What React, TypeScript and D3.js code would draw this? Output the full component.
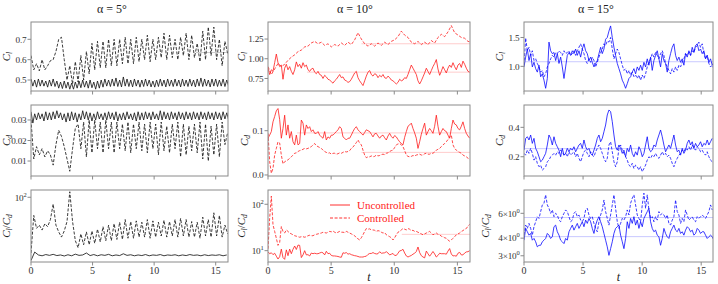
import React from "react";
import * as d3 from "d3";

const T_END = 16;
const xTicks = [0, 5, 10, 15];
const titles = ["α = 5°", "α = 10°", "α = 15°"];
const legendLabels = ["Uncontrolled", "Controlled"];

// sample spacing (time units) of each group of series
const dtA5Unc = 0.15;
const dtA5Ctl = 0.225;
const dtA5RatioUnc = 0.3;
const dtA10 = 0.132;
const dtA10ClCtl = 0.264;
const dtA15 = 0.141;

// ---- alpha = 5 deg
const a5ClUnc = [
  0.505, 0.47, 0.5, 0.465, 0.505, 0.47, 0.5, 0.47, 0.495, 0.465,
  0.5, 0.47, 0.505, 0.468, 0.495, 0.46, 0.49, 0.458, 0.495, 0.46,
  0.49, 0.455, 0.485, 0.455, 0.49, 0.46, 0.495, 0.462, 0.5, 0.465,
  0.495, 0.46, 0.5, 0.462, 0.49, 0.455, 0.495, 0.46, 0.5, 0.465,
  0.505, 0.47, 0.5, 0.468, 0.505, 0.47, 0.51, 0.468, 0.5, 0.466,
  0.515, 0.47, 0.505, 0.468, 0.5, 0.466, 0.505, 0.47, 0.5, 0.465,
  0.5, 0.468, 0.505, 0.47, 0.5, 0.466, 0.495, 0.465, 0.5, 0.468,
  0.505, 0.47, 0.5, 0.466, 0.505, 0.47, 0.5, 0.468, 0.505, 0.47,
  0.5, 0.466, 0.505, 0.47, 0.5, 0.468, 0.505, 0.47, 0.5, 0.466,
  0.505, 0.47, 0.51, 0.468, 0.505, 0.47, 0.5, 0.466, 0.505, 0.47,
  0.505, 0.468, 0.5, 0.47, 0.505, 0.468, 0.5, 0.47,
];
const a5ClCtl = [
  0.62, 0.55, 0.58, 0.545, 0.6, 0.55, 0.57, 0.595, 0.6, 0.64,
  0.7, 0.71, 0.6, 0.5, 0.57, 0.48, 0.59, 0.49, 0.62, 0.5,
  0.64, 0.53, 0.68, 0.55, 0.69, 0.56, 0.69, 0.56, 0.7, 0.57,
  0.7, 0.57, 0.7, 0.58, 0.71, 0.58, 0.7, 0.58, 0.71, 0.59,
  0.7, 0.6, 0.72, 0.59, 0.7, 0.6, 0.71, 0.61, 0.73, 0.6,
  0.72, 0.61, 0.7, 0.6, 0.71, 0.62, 0.73, 0.6, 0.72, 0.61,
  0.68, 0.59, 0.74, 0.6, 0.76, 0.62, 0.76, 0.6, 0.7, 0.57,
  0.69, 0.63,
];
const a5CdUnc = [
  0.034, 0.0285, 0.033, 0.03, 0.0335, 0.0305, 0.033, 0.0295, 0.034, 0.03,
  0.0335, 0.03, 0.034, 0.0305, 0.0345, 0.031, 0.0335, 0.03, 0.033, 0.029,
  0.0335, 0.0295, 0.034, 0.03, 0.0335, 0.029, 0.033, 0.03, 0.0345, 0.0305,
  0.034, 0.03, 0.0335, 0.0295, 0.033, 0.03, 0.034, 0.0305, 0.033, 0.03,
  0.0335, 0.03, 0.034, 0.0305, 0.0335, 0.03, 0.034, 0.0295, 0.033, 0.03,
  0.0335, 0.03, 0.034, 0.0305, 0.033, 0.03, 0.0335, 0.0295, 0.034, 0.03,
  0.0335, 0.03, 0.034, 0.0305, 0.0335, 0.03, 0.034, 0.0305, 0.033, 0.03,
  0.0345, 0.03, 0.034, 0.0305, 0.0335, 0.03, 0.034, 0.0305, 0.0335, 0.03,
  0.034, 0.0305, 0.0335, 0.03, 0.034, 0.0305, 0.0335, 0.03, 0.034, 0.0305,
  0.0335, 0.03, 0.034, 0.0305, 0.0335, 0.03, 0.034, 0.0305, 0.0335, 0.03,
  0.034, 0.0305, 0.0335, 0.03, 0.034, 0.0305, 0.0335, 0.03,
];
const a5CdCtl = [
  0.03, 0.011, 0.017, 0.013, 0.016, 0.012, 0.015, 0.013, 0.008, 0.018,
  0.025, 0.022, 0.017, 0.011, 0.005, 0.016, 0.026, 0.028, 0.016, 0.029,
  0.012, 0.03, 0.014, 0.03, 0.016, 0.029, 0.014, 0.03, 0.016, 0.029,
  0.014, 0.029, 0.016, 0.028, 0.015, 0.029, 0.014, 0.028, 0.016, 0.029,
  0.015, 0.028, 0.014, 0.029, 0.016, 0.028, 0.013, 0.029, 0.015, 0.027,
  0.014, 0.028, 0.016, 0.029, 0.012, 0.028, 0.013, 0.027, 0.015, 0.028,
  0.014, 0.029, 0.011, 0.028, 0.01, 0.027, 0.013, 0.028, 0.012, 0.029,
  0.018, 0.024,
];
const a5RatioUnc = [
  12.5, 16.5, 15.0, 14.6, 15.2, 14.8, 15.3, 14.7, 15.0, 14.5,
  15.1, 14.6, 15.4, 14.8, 15.0, 16.0, 14.7, 15.2, 14.6, 15.1,
  14.8, 15.3, 14.6, 15.0, 14.7, 15.6, 14.8, 15.1, 14.6, 15.0,
  14.7, 15.2, 14.6, 15.0, 14.8, 15.2, 14.6, 15.0, 14.8, 15.1,
  14.6, 15.0, 14.7, 15.2, 14.8, 15.0, 14.6, 15.1, 14.7, 15.0,
  14.8, 15.1, 14.6, 15.0,
];
const a5RatioCtl = [
  16, 55, 36, 40, 34, 42, 38, 48, 80, 40,
  32, 27, 33, 45, 120, 45, 24, 19, 30, 21,
  32, 21, 33, 22, 35, 23, 38, 24, 40, 24,
  42, 25, 44, 25, 48, 26, 45, 26, 46, 27,
  44, 27, 48, 26, 46, 27, 44, 28, 47, 27,
  45, 28, 48, 27, 50, 28, 48, 27, 45, 27,
  44, 26, 52, 28, 48, 27, 60, 28, 55, 27,
  40, 30,
];

// ---- alpha = 10 deg
const a10ClUnc = [
  0.88, 0.8, 0.86, 0.84, 0.95, 1.06, 0.95, 0.9, 0.92, 0.74,
  0.88, 0.93, 0.86, 0.9, 0.84, 0.8, 0.86, 0.96, 0.9, 0.93,
  0.88, 0.95, 0.9, 0.92, 0.86, 0.84, 0.87, 0.88, 0.83, 0.81,
  0.84, 0.8, 0.79, 0.75, 0.79, 0.77, 0.74, 0.73, 0.71, 0.69,
  0.72, 0.74, 0.77, 0.8, 0.76, 0.77, 0.73, 0.72, 0.7, 0.71,
  0.74, 0.78, 0.82, 0.84, 0.76, 0.72, 0.69, 0.66, 0.72, 0.78,
  0.83, 0.85, 0.8, 0.78, 0.81, 0.8, 0.76, 0.79, 0.77, 0.8,
  0.76, 0.75, 0.78, 0.76, 0.73, 0.72, 0.7, 0.68, 0.7, 0.74,
  0.72, 0.73, 0.76, 0.75, 0.8, 0.86, 0.92, 0.88, 0.84, 0.8,
  0.72, 0.68, 0.72, 0.77, 0.82, 0.88, 0.84, 0.8, 0.85, 0.9,
  0.94, 0.99, 0.87, 0.79, 0.84, 0.9, 0.86, 0.82, 0.88, 0.92,
  0.89, 0.95, 0.9, 0.86, 0.92, 0.94, 0.89, 0.97, 0.93, 0.88,
  0.84, 0.83,
];
const a10ClCtl = [
  0.9, 0.8, 0.87, 0.94, 0.9, 0.93, 0.98, 1.02, 1.05, 1.09,
  1.11, 1.15, 1.16, 1.2, 1.22, 1.19, 1.21, 1.17, 1.19, 1.15,
  1.18, 1.16, 1.2, 1.17, 1.21, 1.18, 1.24, 1.33, 1.25, 1.19,
  1.16, 1.19, 1.16, 1.2, 1.17, 1.21, 1.18, 1.22, 1.24, 1.28,
  1.35, 1.3, 1.27, 1.21, 1.19, 1.22, 1.18, 1.21, 1.18, 1.23,
  1.2, 1.27, 1.31, 1.28, 1.34, 1.42, 1.33, 1.3, 1.27, 1.26,
  1.22, 1.21,
];
const a10CdUnc = [
  0.083, 0.09, 0.098, 0.12, 0.132, 0.145, 0.15, 0.125, 0.083, 0.105,
  0.135, 0.09, 0.113, 0.083, 0.098, 0.075, 0.068, 0.09, 0.068, 0.071,
  0.124, 0.117, 0.09, 0.113, 0.105, 0.109, 0.098, 0.102, 0.094, 0.094,
  0.098, 0.09, 0.086, 0.083, 0.098, 0.079, 0.086, 0.083, 0.09, 0.09,
  0.094, 0.098, 0.102, 0.109, 0.105, 0.086, 0.083, 0.079, 0.083, 0.083,
  0.09, 0.098, 0.105, 0.109, 0.102, 0.098, 0.094, 0.09, 0.096, 0.102,
  0.1, 0.098, 0.092, 0.086, 0.093, 0.094, 0.088, 0.083, 0.088, 0.09,
  0.084, 0.079, 0.088, 0.094, 0.087, 0.083, 0.089, 0.086, 0.08, 0.075,
  0.071, 0.068, 0.085, 0.098, 0.11, 0.113, 0.117, 0.105, 0.095, 0.083,
  0.06, 0.075, 0.092, 0.105, 0.117, 0.09, 0.098, 0.105, 0.1, 0.094,
  0.11, 0.135, 0.11, 0.09, 0.098, 0.105, 0.1, 0.098, 0.09, 0.083,
  0.105, 0.124, 0.115, 0.113, 0.105, 0.102, 0.11, 0.12, 0.105, 0.094,
  0.088, 0.083,
];
const a10CdCtl = [
  0.094, 0.03, 0.004, 0.015, 0.045, 0.06, 0.075, 0.072, 0.045, 0.025,
  0.03, 0.032, 0.034, 0.038, 0.041, 0.045, 0.049, 0.05, 0.053, 0.055,
  0.056, 0.058, 0.06, 0.059, 0.06, 0.062, 0.064, 0.068, 0.071, 0.066,
  0.064, 0.062, 0.06, 0.056, 0.053, 0.051, 0.049, 0.05, 0.047, 0.049,
  0.049, 0.047, 0.048, 0.05, 0.049, 0.051, 0.053, 0.052, 0.053, 0.055,
  0.06, 0.063, 0.068, 0.073, 0.079, 0.072, 0.068, 0.056, 0.045, 0.039,
  0.041, 0.041, 0.043, 0.041, 0.042, 0.045, 0.043, 0.044, 0.046, 0.047,
  0.046, 0.049, 0.05, 0.053, 0.055, 0.056, 0.062, 0.068, 0.07, 0.071,
  0.068, 0.064, 0.055, 0.045, 0.042, 0.041, 0.042, 0.044, 0.043, 0.045,
  0.046, 0.047, 0.045, 0.045, 0.048, 0.049, 0.047, 0.047, 0.049, 0.049,
  0.052, 0.056, 0.058, 0.06, 0.064, 0.068, 0.071, 0.075, 0.08, 0.086,
  0.09, 0.068, 0.06, 0.056, 0.053, 0.051, 0.049, 0.045, 0.043, 0.041,
  0.038, 0.034,
];
const a10RatioUnc = [
  9.5, 8.6, 9.0, 8.2, 8.8, 7.6, 6.6, 7.4, 10.8, 7.1,
  6.5, 10.4, 7.8, 10.8, 8.6, 10.7, 12.6, 10.6, 13.2, 13.0,
  7.1, 8.1, 10.0, 8.1, 8.2, 7.7, 8.9, 8.6, 8.8, 8.6,
  8.6, 8.9, 9.2, 9.0, 8.1, 9.7, 8.6, 8.8, 7.9, 7.7,
  7.7, 7.6, 7.5, 7.3, 7.2, 9.0, 8.8, 9.1, 8.4, 8.6,
  8.2, 8.0, 7.8, 7.7, 7.5, 7.3, 7.3, 7.3, 7.5, 7.6,
  8.3, 8.7, 8.7, 9.1, 8.7, 8.5, 8.6, 9.5, 8.8, 8.9,
  9.0, 9.5, 8.9, 8.1, 8.4, 8.7, 7.9, 7.9, 8.8, 9.9,
  10.1, 10.7, 8.9, 7.7, 7.3, 7.6, 7.9, 8.4, 8.8, 9.6,
  12.0, 9.1, 7.8, 7.3, 7.0, 9.8, 8.6, 7.6, 8.5, 9.6,
  8.5, 7.3, 7.9, 8.8, 8.6, 8.6, 8.6, 8.4, 9.8, 11.1,
  8.5, 7.7, 7.8, 7.6, 8.8, 9.2, 8.1, 8.1, 8.9, 9.4,
  9.5, 10.0,
];
const a10RatioCtl = [
  11, 50, 150, 36, 26, 18.5, 13, 15, 33, 26,
  24, 28, 26, 24, 23, 22, 21, 20.5, 20, 19.5,
  20, 20, 19.5, 20, 21, 21.5, 21, 21, 22, 22.5,
  23, 23.5, 24, 25, 24.5, 24, 25, 26, 25.5, 26.5,
  25, 24, 25, 26, 25, 25, 24.5, 26, 25, 24,
  23, 22, 21, 19, 18, 17, 19, 22, 26, 30,
  29, 29.5, 28, 28, 27.5, 26, 27, 26.5, 25, 24,
  24.5, 22, 21, 20, 19, 17, 19, 22, 25, 26,
  28, 30, 29, 28, 30, 29, 27, 27.5, 26, 26,
  25, 24, 23, 22, 23, 24, 25, 26, 24, 22,
  23, 24, 22.5, 22, 20.5, 20, 19, 18.5, 17, 16,
  17, 18.5, 20, 22, 23, 24, 26, 27, 29, 30,
  34, 37,
];

// ---- alpha = 15 deg
const a15ClUnc = [
  0.99, 1.16, 1.3, 1.1, 1.22, 0.99, 1.07, 0.96, 0.9, 1.02,
  0.82, 0.87, 0.76, 0.62, 0.79, 1.42, 1.27, 1.22, 1.24, 1.1,
  1.22, 1.05, 1.16, 0.99, 0.79, 0.99, 1.19, 1.24, 1.19, 1.27,
  1.22, 1.3, 1.19, 1.27, 1.16, 1.3, 1.39, 1.27, 1.22, 1.1,
  1.16, 1.07, 0.99, 1.05, 1.1, 1.22, 1.33, 1.22, 1.3, 1.47,
  1.5, 1.61, 1.7, 1.5, 1.33, 1.19, 1.05, 0.96, 0.87, 0.76,
  0.7, 0.62, 0.7, 0.79, 0.82, 0.9, 0.96, 0.87, 0.99, 0.93,
  1.02, 0.93, 1.07, 0.99, 1.13, 1.02, 1.16, 0.93, 1.1, 1.19,
  1.27, 1.13, 0.99, 1.22, 1.1, 1.05, 0.9, 1.1, 1.22, 1.33,
  1.39, 1.19, 1.1, 1.16, 1.07, 1.13, 1.02, 1.22, 1.16, 1.27,
  1.19, 1.33, 1.24, 1.36, 1.39, 1.27, 1.3, 1.22, 1.27, 1.13,
  1.19, 1.07, 1.13, 1.02, 1.07,
];
const a15ClCtl = [
  1.02, 1.49, 1.27, 1.33, 1.19, 1.27, 1.1, 1.13, 1.05, 0.99,
  0.9, 0.93, 0.82, 0.87, 0.99, 1.05, 1.13, 1.19, 1.16, 1.24,
  1.22, 1.27, 1.24, 1.19, 1.27, 1.22, 1.24, 1.27, 1.19, 1.22,
  1.27, 1.19, 1.27, 1.33, 1.39, 1.3, 1.22, 1.1, 1.05, 1.13,
  1.07, 1.16, 1.1, 0.99, 1.07, 1.16, 1.24, 1.3, 1.39, 1.36,
  1.44, 1.42, 1.5, 1.3, 1.13, 1.22, 1.3, 1.24, 1.13, 1.02,
  0.93, 0.96, 0.87, 0.93, 0.85, 0.9, 0.82, 0.85, 0.79, 0.85,
  0.76, 0.85, 0.79, 0.87, 0.99, 1.07, 1.13, 1.22, 1.16, 1.24,
  1.19, 1.13, 1.22, 1.27, 1.19, 1.05, 0.99, 0.93, 0.87, 0.96,
  0.9, 0.99, 0.93, 1.02, 0.99, 1.07, 1.13, 1.22, 1.19, 1.24,
  1.19, 1.27, 1.24, 1.33, 1.36, 1.42, 1.33, 1.39, 1.22, 1.13,
  1.19, 1.05, 0.99, 1.02, 0.96,
];
const a15CdUnc = [
  0.245, 0.325, 0.336, 0.314, 0.348, 0.291, 0.325, 0.257, 0.234, 0.2,
  0.166, 0.177, 0.2, 0.223, 0.28, 0.348, 0.325, 0.28, 0.336, 0.291,
  0.268, 0.245, 0.2, 0.257, 0.211, 0.223, 0.257, 0.234, 0.257, 0.245,
  0.268, 0.234, 0.257, 0.28, 0.291, 0.257, 0.314, 0.268, 0.245, 0.257,
  0.223, 0.211, 0.245, 0.28, 0.325, 0.348, 0.302, 0.325, 0.37, 0.416,
  0.484, 0.518, 0.507, 0.439, 0.348, 0.268, 0.245, 0.28, 0.257, 0.223,
  0.245, 0.2, 0.257, 0.234, 0.28, 0.223, 0.2, 0.234, 0.211, 0.268,
  0.245, 0.2, 0.223, 0.28, 0.336, 0.257, 0.234, 0.245, 0.28, 0.268,
  0.314, 0.348, 0.382, 0.336, 0.28, 0.234, 0.257, 0.28, 0.257, 0.302,
  0.348, 0.28, 0.234, 0.245, 0.211, 0.257, 0.223, 0.245, 0.291, 0.314,
  0.28, 0.302, 0.257, 0.291, 0.268, 0.28, 0.302, 0.268, 0.291, 0.28,
  0.314, 0.28, 0.302, 0.325,
];
const a15CdCtl = [
  0.223, 0.211, 0.245, 0.223, 0.257, 0.223, 0.177, 0.2, 0.155, 0.132,
  0.143, 0.109, 0.12, 0.132, 0.166, 0.177, 0.2, 0.211, 0.223, 0.211,
  0.234, 0.223, 0.245, 0.234, 0.211, 0.223, 0.2, 0.234, 0.211, 0.223,
  0.234, 0.2, 0.223, 0.189, 0.166, 0.2, 0.234, 0.245, 0.223, 0.2,
  0.234, 0.211, 0.2, 0.234, 0.257, 0.28, 0.257, 0.223, 0.189, 0.166,
  0.189, 0.28, 0.302, 0.234, 0.166, 0.132, 0.166, 0.257, 0.28, 0.245,
  0.223, 0.2, 0.177, 0.143, 0.132, 0.155, 0.12, 0.143, 0.132, 0.109,
  0.132, 0.098, 0.12, 0.143, 0.177, 0.2, 0.189, 0.211, 0.2, 0.223,
  0.2, 0.189, 0.211, 0.234, 0.211, 0.223, 0.2, 0.211, 0.189, 0.155,
  0.132, 0.166, 0.189, 0.211, 0.223, 0.245, 0.234, 0.257, 0.245, 0.268,
  0.245, 0.28, 0.257, 0.245, 0.268, 0.257, 0.234, 0.245, 0.223, 0.211,
  0.234, 0.2, 0.177, 0.166,
];
const a15RatioUnc = [
  3.87, 4.69, 4.44, 4.2, 4.32, 3.87, 3.98, 3.77, 3.47, 3.56,
  3.56, 3.77, 3.87, 3.98, 4.32, 4.2, 3.98, 4.09, 4.82, 4.95,
  4.44, 4.2, 3.87, 3.77, 3.66, 3.98, 3.87, 4.44, 4.69, 4.95,
  4.56, 4.82, 5.09, 4.69, 4.95, 5.23, 4.82, 5.37, 5.09, 5.52,
  5.23, 4.69, 4.32, 4.95, 5.37, 5.68, 5.23, 4.82, 4.32, 3.87,
  3.47, 3.02, 3.37, 3.77, 4.32, 4.69, 4.82, 4.95, 4.2, 3.77,
  3.37, 3.98, 5.23, 4.69, 5.52, 5.09, 5.68, 4.95, 5.37, 4.69,
  5.23, 4.82, 5.52, 5.84, 6.17, 6.51, 5.23, 4.69, 4.44, 4.56,
  4.2, 4.09, 3.56, 3.98, 4.69, 4.32, 4.09, 3.98, 4.44, 4.69,
  4.95, 4.56, 4.44, 4.69, 4.32, 4.44, 4.2, 4.56, 4.82, 4.69,
  4.44, 4.56, 4.2, 4.32, 4.69, 4.56, 4.32, 4.44, 4.44, 4.2,
  3.98, 4.09, 4.2, 4.09, 3.87,
];
const a15RatioCtl = [
  4.2, 4.95, 4.69, 5.09, 4.69, 4.2, 4.82, 5.23, 5.68, 5.52,
  6.17, 6.88, 7.07, 8.11, 6.88, 6.51, 6.0, 6.34, 5.68, 6.0,
  5.84, 5.37, 5.23, 5.68, 6.0, 6.34, 6.17, 5.68, 5.23, 5.37,
  6.0, 6.17, 5.68, 5.84, 5.37, 5.23, 5.52, 6.34, 6.51, 5.84,
  5.52, 5.68, 5.09, 4.69, 4.44, 5.23, 5.84, 6.34, 7.46, 6.17,
  5.52, 4.95, 5.84, 6.88, 8.11, 6.51, 5.23, 4.69, 5.09, 5.52,
  5.37, 5.68, 6.34, 5.84, 7.07, 7.67, 8.11, 6.88, 5.84, 5.52,
  5.23, 6.88, 8.34, 6.51, 8.11, 6.34, 5.52, 5.68, 5.23, 5.68,
  5.37, 6.17, 5.84, 6.0, 5.84, 5.52, 5.84, 5.09, 4.95, 5.37,
  5.68, 7.46, 6.17, 5.84, 5.09, 5.52, 5.23, 6.34, 5.84, 5.37,
  5.52, 5.68, 5.37, 5.23, 5.68, 5.52, 5.68, 5.84, 5.68, 5.52,
  5.84, 6.17, 6.88, 6.34,
];

// faint averaged levels: [value, start time]
const a5ClMeans = [[0.635, 13.4]];
const a10ClMeans = [[1.19, 7.4], [0.83, 3.1]];
const a10CdMeans = [[0.095, 2.3], [0.051, 7.4]];
const a10RatioMeans = [[22.5, 10.6]];
const a15ClMeans = [[1.08, 0]];
const a15CdMeans = [[0.255, 0]];
const a15RatioMeans = [[5.6, 0], [4.1, 0]];

// y ticks and their labels
const a5ClTicks = [0.5, 0.6, 0.7];
const a5ClTickLabels = ["0.5", "0.6", "0.7"];
const a5CdTicks = [0.01, 0.02, 0.03];
const a5CdTickLabels = ["0.01", "0.02", "0.03"];
const a5RatioTicks = [100];
const a5RatioTickLabels = ["10^2"];
const a10ClTicks = [0.75, 1.0, 1.25];
const a10ClTickLabels = ["0.75", "1.00", "1.25"];
const a10CdTicks = [0, 0.1];
const a10CdTickLabels = ["0.0", "0.1"];
const a10RatioTicks = [10, 100];
const a10RatioTickLabels = ["10^1", "10^2"];
const a15ClTicks = [1.0, 1.5];
const a15ClTickLabels = ["1.0", "1.5"];
const a15CdTicks = [0.2, 0.4];
const a15CdTickLabels = ["0.2", "0.4"];
const a15RatioTicks = [3, 4, 6];
const a15RatioTickLabels = ["3×10^0", "4×10^0", "6×10^0"];

const colors = ["#1a1a1a", "#ff1a1a", "#0a0aff"];
const colCfg = [
  { x0: 31, x1: 228, title: 112 },
  { x0: 268, x1: 470, title: 355 },
  { x0: 524, x1: 713, title: 596 },
];
const rowCfg = [
  { y0: 22, y1: 91 },
  { y0: 105, y1: 176 },
  { y0: 190, y1: 262 },
];

const panels = [
  { col: 0, row: 0, unc: a5ClUnc, dtU: dtA5Unc, ctl: a5ClCtl, dtC: dtA5Ctl, domain: [0.446, 0.785], log: false, ticks: a5ClTicks, tl: a5ClTickLabels, lab: "cl", labX: 10, means: a5ClMeans },
  { col: 0, row: 1, unc: a5CdUnc, dtU: dtA5Unc, ctl: a5CdCtl, dtC: dtA5Ctl, domain: [0.0027, 0.0373], log: false, ticks: a5CdTicks, tl: a5CdTickLabels, lab: "cd", labX: 9.5, means: [] },
  { col: 0, row: 2, unc: a5RatioUnc, dtU: dtA5RatioUnc, ctl: a5RatioCtl, dtC: dtA5Ctl, domain: [11.9, 127], log: true, ticks: a5RatioTicks, tl: a5RatioTickLabels, lab: "ratio", labX: 10, means: [] },
  { col: 1, row: 0, unc: a10ClUnc, dtU: dtA10, ctl: a10ClCtl, dtC: dtA10ClCtl, domain: [0.591, 1.466], log: false, ticks: a10ClTicks, tl: a10ClTickLabels, lab: "cl", labX: 245, means: a10ClMeans },
  { col: 1, row: 1, unc: a10CdUnc, dtU: dtA10, ctl: a10CdCtl, dtC: dtA10, domain: [-0.0023, 0.158], log: false, ticks: a10CdTicks, tl: a10CdTickLabels, lab: "cd", labX: 248, means: a10CdMeans },
  { col: 1, row: 2, unc: a10RatioUnc, dtU: dtA10, ctl: a10RatioCtl, dtC: dtA10, domain: [5.7, 203], log: true, ticks: a10RatioTicks, tl: a10RatioTickLabels, lab: "ratio", labX: 245, means: a10RatioMeans },
  { col: 2, row: 0, unc: a15ClUnc, dtU: dtA15, ctl: a15ClCtl, dtC: dtA15, domain: [0.573, 1.768], log: false, ticks: a15ClTicks, tl: a15ClTickLabels, lab: "cl", labX: 503, means: a15ClMeans },
  { col: 2, row: 1, unc: a15CdUnc, dtU: dtA15, ctl: a15CdCtl, dtC: dtA15, domain: [0.069, 0.552], log: false, ticks: a15CdTicks, tl: a15CdTickLabels, lab: "cd", labX: 503, means: a15CdMeans },
  { col: 2, row: 2, unc: a15RatioUnc, dtU: dtA15, ctl: a15RatioCtl, dtC: dtA15, domain: [2.71, 8.78], log: true, ticks: a15RatioTicks, tl: a15RatioTickLabels, lab: "ratio", labX: 489, means: a15RatioMeans },
];

const FONT = "'Liberation Serif', 'DejaVu Serif', serif";
const TICK_COLOR = "#333";
const FRAME = "#8a8a8a";

function TickLabel({ s }: { s: string }) {
  const [base, sup] = s.split("^");
  return (
    <>
      {base}
      {sup !== undefined && (
        <tspan dy={-4} fontSize={6.5}>
          {sup}
        </tspan>
      )}
    </>
  );
}

function YLabel({ kind, x, y }: { kind: string; x: number; y: number }) {
  const sub = (s: string) => (
    <tspan dy={2} fontSize={7.5} fontStyle="italic">
      {s}
    </tspan>
  );
  return (
    <text
      transform={`translate(${x},${y}) rotate(-90)`}
      textAnchor="middle"
      fontSize={11}
      fill="#222"
      fontFamily={FONT}
    >
      <tspan fontStyle="italic">C</tspan>
      {kind === "cd" ? sub("d") : sub("l")}
      {kind === "ratio" && (
        <>
          <tspan dy={-2}>/</tspan>
          <tspan fontStyle="italic">C</tspan>
          {sub("d")}
        </>
      )}
    </text>
  );
}

function Panel({ p, idx }: { p: any; idx: number }) {
  const c = colCfg[p.col];
  const r = rowCfg[p.row];
  const color = colors[p.col];
  const x = d3.scaleLinear().domain([0, T_END]).range([c.x0, c.x1]);
  const y = (p.log ? d3.scaleLog() : d3.scaleLinear()).domain(p.domain).range([r.y1, r.y0]);
  const lineU = d3
    .line<number>()
    .x((_, i) => x(i * p.dtU))
    .y((d) => y(d));
  const lineC = d3
    .line<number>()
    .x((_, i) => x(i * p.dtC))
    .y((d) => y(d));
  const clipId = `clip-${idx}`;
  const midY = (r.y0 + r.y1) / 2;
  const lw = p.col === 0 ? 0.85 : 0.8;
  return (
    <g>
      <clipPath id={clipId}>
        <rect x={c.x0} y={r.y0} width={c.x1 - c.x0} height={r.y1 - r.y0} />
      </clipPath>
      <g clipPath={`url(#${clipId})`}>
        {p.means.map((m: number[], i: number) => (
          <line
            key={i}
            x1={x(m[1])}
            x2={c.x1}
            y1={y(m[0])}
            y2={y(m[0])}
            stroke={color}
            strokeOpacity={0.22}
            strokeWidth={1}
          />
        ))}
        <path d={lineU(p.unc) || ""} fill="none" stroke={color} strokeWidth={lw} strokeLinejoin="round" />
        <path
          d={lineC(p.ctl) || ""}
          fill="none"
          stroke={color}
          strokeWidth={lw}
          strokeDasharray="3,1.6"
          strokeLinejoin="round"
        />
      </g>
      <rect
        x={c.x0}
        y={r.y0}
        width={c.x1 - c.x0}
        height={r.y1 - r.y0}
        fill="none"
        stroke={FRAME}
        strokeWidth={1}
      />
      {xTicks.map((t) => (
        <line key={t} x1={x(t)} x2={x(t)} y1={r.y1} y2={r.y1 + 3.5} stroke={FRAME} />
      ))}
      {p.row === 2 &&
        xTicks.map((t) => (
          <text
            key={`l${t}`}
            x={x(t)}
            y={r.y1 + 12}
            textAnchor="middle"
            fontSize={10}
            fill={TICK_COLOR}
            fontFamily={FONT}
          >
            {t}
          </text>
        ))}
      {p.row === 2 && (
        <text
          x={(c.x0 + c.x1) / 2}
          y={r.y1 + 19}
          textAnchor="middle"
          fontSize={12}
          fontStyle="italic"
          fill="#222"
          fontFamily={FONT}
        >
          t
        </text>
      )}
      {p.ticks.map((v: number, i: number) => (
        <g key={`y${i}`}>
          <line x1={c.x0 - 3.5} x2={c.x0} y1={y(v)} y2={y(v)} stroke={FRAME} />
          <text
            x={c.x0 - 4.5}
            y={y(v) + 3.3}
            textAnchor="end"
            fontSize={9.2}
            letterSpacing={-0.2}
            fill={TICK_COLOR}
            fontFamily={FONT}
          >
            <TickLabel s={p.tl[i]} />
          </text>
        </g>
      ))}
      <YLabel kind={p.lab} x={p.labX} y={midY} />
    </g>
  );
}

export default function App() {
  const legendX = 330;
  const legendY = [205, 218];
  return (
    <svg width={718} height={284} style={{ display: "block", position: "absolute", left: 0, top: 0 }}>
      <rect width={718} height={284} fill="#fff" />
      {titles.map((t, i) => (
        <text
          key={t}
          x={colCfg[i].title}
          y={13}
          textAnchor="middle"
          fontSize={12}
          fill="#222"
          fontFamily={FONT}
        >
          {t}
        </text>
      ))}
      {panels.map((p, i) => (
        <Panel key={i} p={p} idx={i} />
      ))}
      {legendLabels.map((l, i) => (
        <g key={l}>
          <line
            x1={legendX}
            x2={legendX + 20}
            y1={legendY[i]}
            y2={legendY[i]}
            stroke={colors[1]}
            strokeWidth={0.9}
            strokeDasharray={i === 1 ? "3,1.6" : undefined}
          />
          <text
            x={legendX + 27}
            y={legendY[i] + 3.5}
            fontSize={11}
            fill={colors[1]}
            fontFamily={FONT}
          >
            {l}
          </text>
        </g>
      ))}
    </svg>
  );
}
